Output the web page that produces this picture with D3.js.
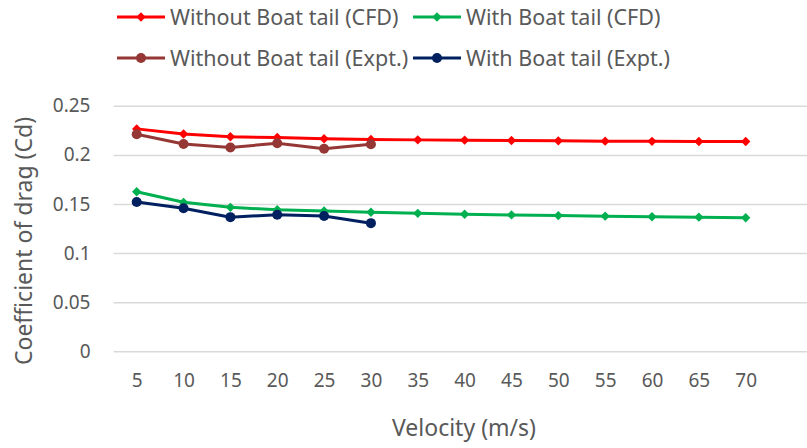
<!DOCTYPE html>
<html><head><meta charset="utf-8">
<script src="https://cdn.jsdelivr.net/npm/d3@7"></script>
<style>body{margin:0;background:#fff}svg{display:block}</style>
</head><body>
<svg id="c" width="807" height="448"></svg>
<script>
const categories = [5,10,15,20,25,30,35,40,45,50,55,60,65,70];
const yTicks = [0,0.05,0.1,0.15,0.2,0.25];
const withoutCFD = [0.2265,0.2213,0.2185,0.2177,0.2165,0.2158,0.2153,0.2150,0.2146,0.2143,0.2140,0.2138,0.2137,0.2136];
const withCFD = [0.1625,0.1517,0.1466,0.1442,0.1429,0.1416,0.1405,0.1396,0.1389,0.1382,0.1376,0.1370,0.1366,0.1360];
const withoutExpt = [0.2210,0.2111,0.2076,0.2118,0.2062,0.2108];
const withExpt = [0.1520,0.1456,0.1366,0.1390,0.1378,0.1305];
const seriesNames = ["Without Boat tail (CFD)","With Boat tail (CFD)","Without Boat tail (Expt.)","With Boat tail (Expt.)"];

const series = [
  {name: seriesNames[0], values: withoutCFD, color: "#ff0000", marker: "diamond"},
  {name: seriesNames[1], values: withCFD, color: "#00b050", marker: "diamond"},
  {name: seriesNames[2], values: withoutExpt, color: "#953735", marker: "circle"},
  {name: seriesNames[3], values: withExpt, color: "#002060", marker: "circle"}
];

const svg = d3.select("#c");
const font = "'Noto Sans', sans-serif";
const txt = "#595959";
const plotL = 113.5, plotR = 807;
const x = d3.scalePoint().domain(categories).range([136.7, 745.7]);
const y = d3.scaleLinear().domain([0,0.25]).range([351.3,105.8]);

// gridlines + y labels
const ya = svg.append("g").attr("transform",`translate(${plotL},0)`)
  .call(d3.axisLeft(y).tickValues(yTicks).tickSize(-(plotR-plotL)).tickPadding(23).tickFormat(d=>String(d)));
ya.select(".domain").remove();
ya.selectAll(".tick line").attr("stroke","#d9d9d9").attr("stroke-width",1.5);
ya.selectAll(".tick text").attr("fill",txt).style("font-family",font).style("font-size","19px");

// x labels
const xa = svg.append("g").attr("transform","translate(0,351.3)")
  .call(d3.axisBottom(x).tickSize(0).tickPadding(22));
xa.select(".domain").remove();
xa.selectAll(".tick text").attr("fill",txt).style("font-family",font).style("font-size","19px");

// axis titles
svg.append("text").attr("x",464).attr("y",428).attr("dy","0.35em").attr("text-anchor","middle")
  .attr("fill",txt).style("font-family",font).style("font-size","23px").text("Velocity (m/s)");
svg.append("text").attr("transform","translate(32,241) rotate(-90)").attr("text-anchor","middle")
  .attr("fill",txt).style("font-family",font).style("font-size","23px").text("Coefficient of drag (Cd)");

const line = d3.line().x((d,i)=>x(categories[i])).y(d=>y(d));

function drawMarker(g, s, cx, cy){
  if(s.marker==="diamond"){
    g.append("path").attr("d", d3.symbol().type(d3.symbolSquare).size(44)()).attr("transform",`translate(${cx},${cy}) rotate(45)`).attr("fill",s.color);
  } else {
    g.append("circle").attr("cx",cx).attr("cy",cy).attr("r",5).attr("fill",s.color);
  }
}

series.forEach(s=>{
  const g = svg.append("g");
  g.append("path").datum(s.values).attr("d",line).attr("fill","none")
    .attr("stroke",s.color).attr("stroke-width",3).attr("stroke-linejoin","round");
  s.values.forEach((v,i)=>drawMarker(g,s,x(categories[i]),y(v)));
});

// legend
const legPos = [[117,17],[413,17],[117,58],[413,58]];
series.forEach((s,i)=>{
  const [lx,ly] = legPos[i];
  const g = svg.append("g");
  g.append("line").attr("x1",lx).attr("x2",lx+48).attr("y1",ly).attr("y2",ly).attr("stroke",s.color).attr("stroke-width",3);
  drawMarker(g,s,lx+24,ly);
  g.append("text").attr("x",lx+53).attr("y",ly).attr("dy","0.35em").attr("fill",txt)
    .style("font-family",font).style("font-size","21.5px").text(s.name);
});
</script>
</body></html>
